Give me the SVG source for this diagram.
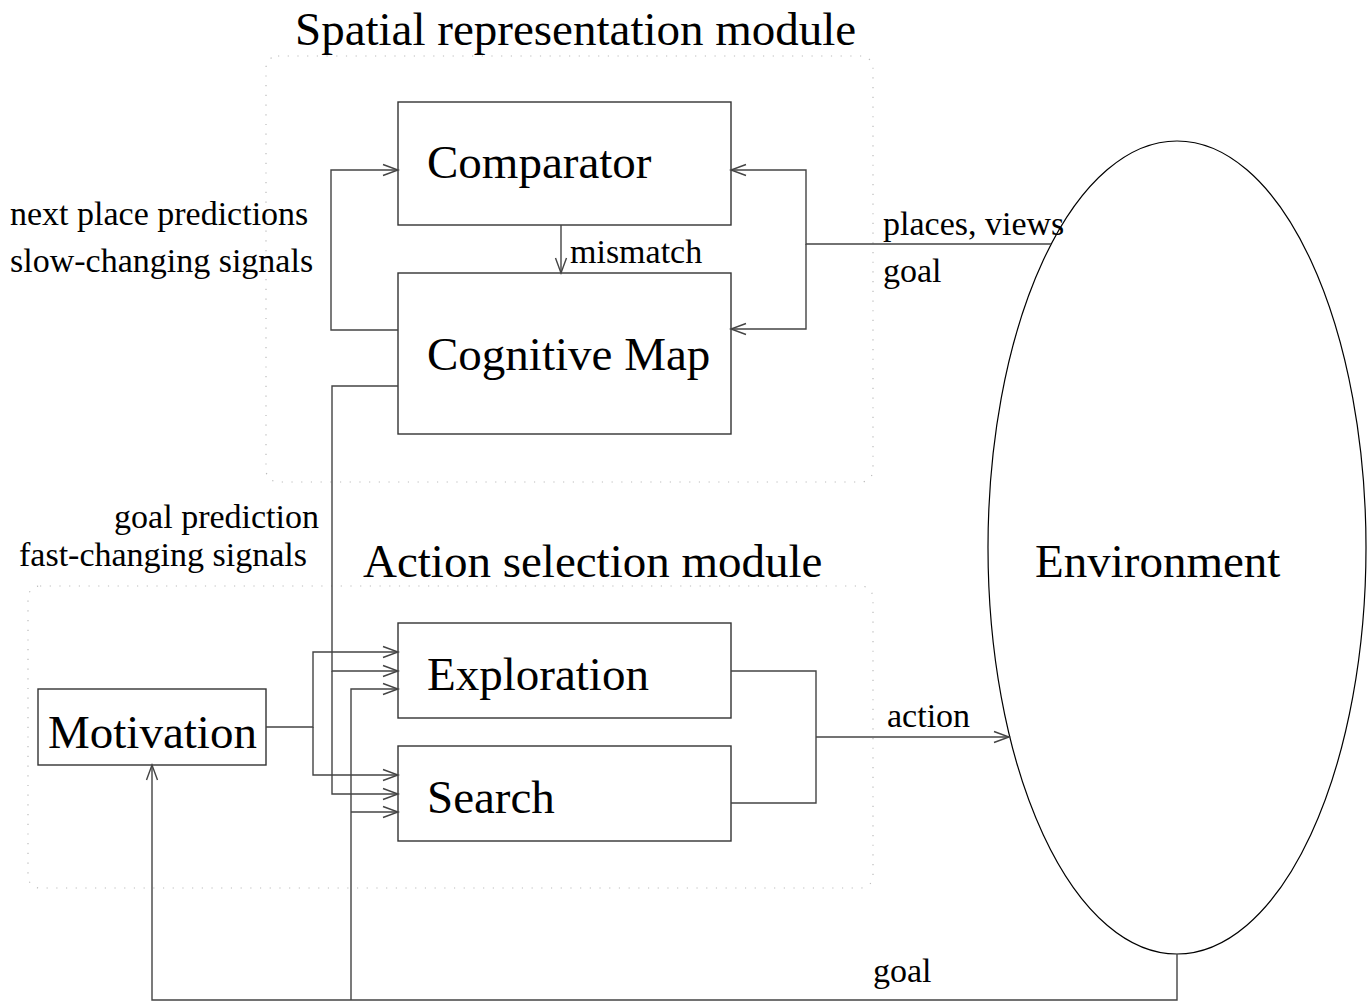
<svg xmlns="http://www.w3.org/2000/svg" width="1370" height="1004" viewBox="0 0 1370 1004">
<style>
.big{font-family:"Liberation Serif","Times New Roman",serif;font-size:47px;fill:#000}
.sm{font-family:"Liberation Serif","Times New Roman",serif;font-size:34px;fill:#000}
.box{fill:none;stroke:#333;stroke-width:1.4}
.ln{fill:none;stroke:#444;stroke-width:1.4}
.dot{fill:none;stroke:#bbb;stroke-width:1.2;stroke-dasharray:1.2 8.5}
</style>
<defs>
<marker id="arr" markerUnits="userSpaceOnUse" markerWidth="20" markerHeight="14" refX="16" refY="7" orient="auto" viewBox="0 0 20 14">
<path d="M1,1.5 L16,7 L1,12.5" fill="none" stroke="#444" stroke-width="1.4"/>
</marker>
</defs>
<g id="modules">
<rect class="dot" x="266" y="56" width="607" height="426" rx="12"/>
<rect class="dot" x="28" y="586" width="845" height="302" rx="12"/>
<text class="big" x="295" y="45">Spatial representation module</text>
<text class="big" x="363" y="577">Action selection module</text>
</g>
<g id="comparator">
<rect class="box" x="398" y="102" width="333" height="123"/>
<text class="big" x="427" y="178">Comparator</text>
</g>
<g id="cognitive-map">
<rect class="box" x="398" y="273" width="333" height="161"/>
<text class="big" x="427" y="370">Cognitive Map</text>
</g>
<g id="exploration">
<rect class="box" x="398" y="623" width="333" height="95"/>
<text class="big" x="427" y="690">Exploration</text>
</g>
<g id="search">
<rect class="box" x="398" y="746" width="333" height="95"/>
<text class="big" x="427" y="813">Search</text>
</g>
<g id="motivation">
<rect class="box" x="38" y="689" width="228" height="76"/>
<text class="big" x="48" y="748">Motivation</text>
</g>
<g id="environment">
<ellipse cx="1177" cy="547.5" rx="189" ry="406.5" fill="none" stroke="#000" stroke-width="1.2"/>
<text class="big" x="1035" y="577">Environment</text>
</g>
<g id="connectors">
<path class="ln" d="M398,330 H331 V170 H398" marker-end="url(#arr)"/>
<path class="ln" d="M561,225 V273" marker-end="url(#arr)"/>
<path class="ln" d="M1051,244 H806 V170 H731" marker-end="url(#arr)"/>
<path class="ln" d="M806,244 V329 H731" marker-end="url(#arr)"/>
<path class="ln" d="M398,386 H332 V671 H398" marker-end="url(#arr)"/>
<path class="ln" d="M332,671 V794 H398" marker-end="url(#arr)"/>
<path class="ln" d="M266,727 H313 V652 H398" marker-end="url(#arr)"/>
<path class="ln" d="M313,727 V775 H398" marker-end="url(#arr)"/>
<path class="ln" d="M1177,954 V1000 H152 V765" marker-end="url(#arr)"/>
<path class="ln" d="M351,1000 V689 H398" marker-end="url(#arr)"/>
<path class="ln" d="M351,812 H398" marker-end="url(#arr)"/>
<path class="ln" d="M731,671 H816 V803 H731"/>
<path class="ln" d="M816,737 H1009" marker-end="url(#arr)"/>
<text class="sm" x="10" y="225">next place predictions</text>
<text class="sm" x="10" y="272">slow-changing signals</text>
<text class="sm" x="319" y="528" text-anchor="end">goal prediction</text>
<text class="sm" x="307" y="566" text-anchor="end">fast-changing signals</text>
<text class="sm" x="570" y="263">mismatch</text>
<text class="sm" x="883" y="235">places, views</text>
<text class="sm" x="883" y="282">goal</text>
<text class="sm" x="887" y="727">action</text>
<text class="sm" x="873" y="982">goal</text>
</g>
</svg>
